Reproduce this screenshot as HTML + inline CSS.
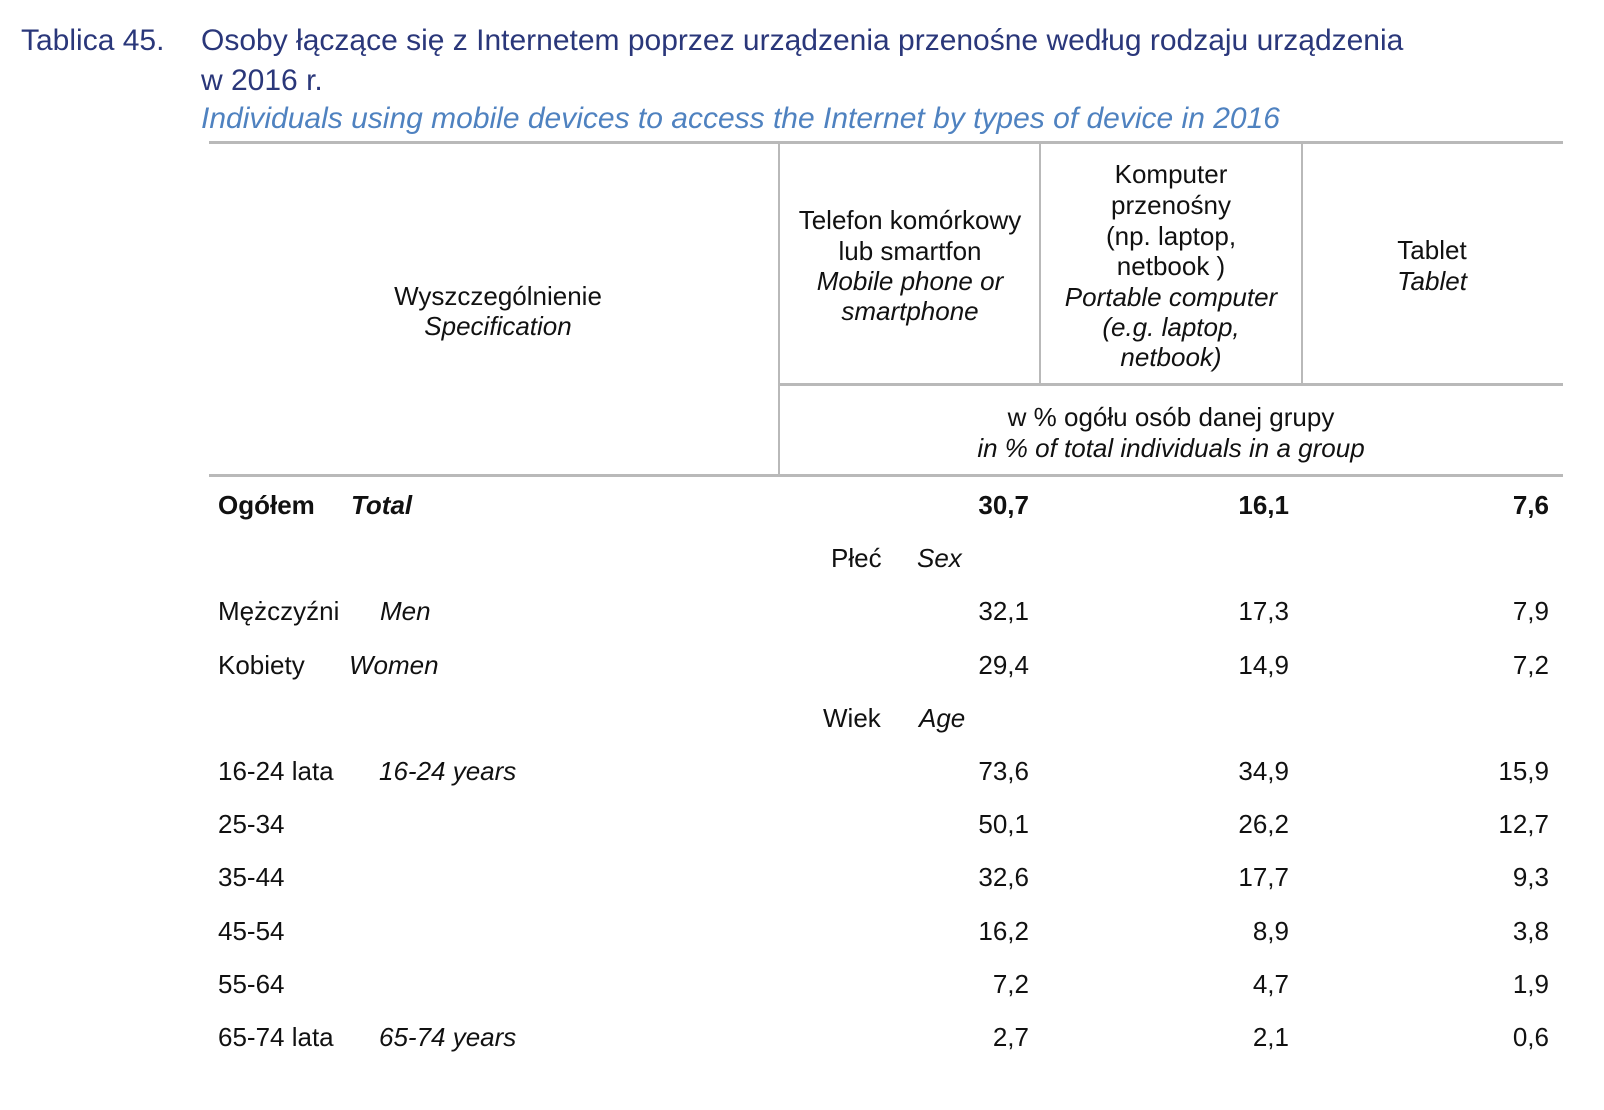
<!DOCTYPE html>
<html><head><meta charset="utf-8">
<style>
html,body{margin:0;padding:0;background:#fff;}
#page{position:relative;width:1604px;height:1110px;overflow:hidden;font-family:"Liberation Sans","DejaVu Sans",sans-serif;color:#111;}
.t{position:absolute;white-space:nowrap;line-height:30px;height:30px;font-size:26px;letter-spacing:0px;}
.c{text-align:center;width:300px;}
.r{text-align:right;width:150px;}
.i{font-style:italic;}
.b{font-weight:bold;}
.hl{position:absolute;height:3px;background:#b9b9b9;}
.vl{position:absolute;width:2px;background:#b9b9b9;}
.title{color:#2a377a;font-size:30px;line-height:34px;height:34px;}
.sub{color:#4f82c0;font-size:30px;font-style:italic;line-height:34px;height:34px;}
</style></head>
<body>
<div id="page">
<div class="t title" style="left:21px;top:24px">Tablica 45.</div>
<div class="t title" style="left:201px;top:24px">Osoby łączące się z Internetem poprzez urządzenia przenośne według rodzaju urządzenia</div>
<div class="t title" style="left:201px;top:64px">w 2016 r.</div>
<div class="t sub" style="left:201px;top:102px">Individuals using mobile devices to access the Internet by types of device in 2016</div>

<div class="hl" style="left:209px;top:141px;width:1354px"></div>
<div class="hl" style="left:779px;top:383px;width:784px"></div>
<div class="hl" style="left:209px;top:474px;width:1354px"></div>
<div class="vl" style="left:778px;top:142px;height:333px"></div>
<div class="vl" style="left:1039px;top:142px;height:242px"></div>
<div class="vl" style="left:1301px;top:142px;height:242px"></div>

<div class="t c" style="left:348px;top:281px">Wyszczególnienie</div>
<div class="t c i" style="left:348px;top:311px">Specification</div>

<div class="t c" style="left:760px;top:205px">Telefon komórkowy</div>
<div class="t c" style="left:760px;top:236px">lub smartfon</div>
<div class="t c i" style="left:760px;top:266px">Mobile phone or</div>
<div class="t c i" style="left:760px;top:296px">smartphone</div>

<div class="t c" style="left:1021px;top:159px">Komputer</div>
<div class="t c" style="left:1021px;top:190px">przenośny</div>
<div class="t c" style="left:1021px;top:221px">(np. laptop,</div>
<div class="t c" style="left:1021px;top:251px">netbook )</div>
<div class="t c i" style="left:1021px;top:282px">Portable computer</div>
<div class="t c i" style="left:1021px;top:312px">(e.g. laptop,</div>
<div class="t c i" style="left:1021px;top:342px">netbook)</div>

<div class="t c" style="left:1282px;top:235px">Tablet</div>
<div class="t c i" style="left:1282px;top:266px">Tablet</div>

<div class="t c" style="left:1021px;top:402px;width:500px;margin-left:-100px">w % ogółu osób danej grupy</div>
<div class="t c i" style="left:1021px;top:433px;width:500px;margin-left:-100px">in % of total individuals in a group</div>
</div>
<script>
const labels=["Ogółem","Mężczyźni","Kobiety","16-24 lata","25-34","35-44","45-54","55-64","65-74 lata"];
const labelsEn=["Total","Men","Women","16-24 years","","","","","65-74 years"];
const phone=[30.7,32.1,29.4,73.6,50.1,32.6,16.2,7.2,2.7];
const laptop=[16.1,17.3,14.9,34.9,26.2,17.7,8.9,4.7,2.1];
const tablet=[7.6,7.9,7.2,15.9,12.7,9.3,3.8,1.9,0.6];
const slots=[0,2,3,5,6,7,8,9,10];
const enX=[351,380,349,379,0,0,0,0,379];
const page=document.getElementById('page');
function rowY(s){return 505+s*53.2;}
function mk(txt,cls,style){const d=document.createElement('div');d.className='t '+cls;d.textContent=txt;Object.assign(d.style,style);page.appendChild(d);return d;}
const fmt=v=>v.toFixed(1).replace('.',',');
labels.forEach((l,i)=>{
  const y=rowY(slots[i])-15; const bold=i===0?' b':'';
  let e=mk(l,bold,{left:'218px',top:y+'px'});
  
  
  if(labelsEn[i]){e=mk(labelsEn[i],'i'+bold,{left:enX[i]+'px',top:y+'px'});
    
    }
  [[phone,1029],[laptop,1289],[tablet,1549]].forEach(([arr,rx])=>{
    const c=mk(fmt(arr[i]),'r'+bold,{left:(rx-150)+'px',top:y+'px'});
    
    
  });
});
let s=mk('Płeć','',{left:'831px',top:(rowY(1)-15)+'px'});


s=mk('Sex','i',{left:'917px',top:(rowY(1)-15)+'px'});


s=mk('Wiek','',{left:'823px',top:(rowY(4)-15)+'px'});


s=mk('Age','i',{left:'919px',top:(rowY(4)-15)+'px'});


</script>
</body></html>
